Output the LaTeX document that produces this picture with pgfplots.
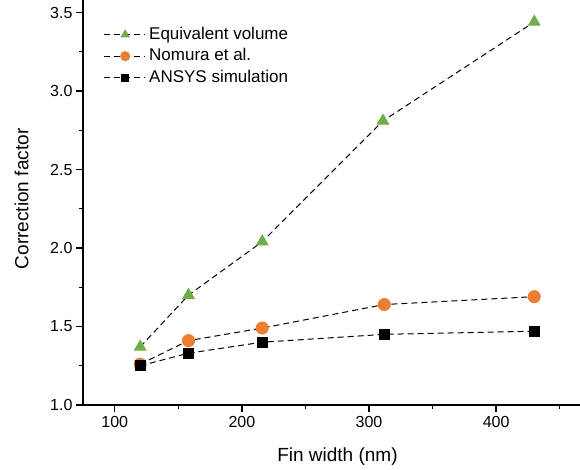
\documentclass[border=0pt]{standalone}
\usepackage{pgfplots}
\pgfplotsset{compat=1.18}
\usepackage{fontspec}
\setmainfont{Liberation Sans}
\definecolor{cgreen}{RGB}{112,173,71}
\definecolor{corange}{RGB}{237,125,49}
\begin{document}
\begin{tikzpicture}
\begin{axis}[
  name=ax,
  scale only axis, width=497pt, height=405pt,
  xmin=75, xmax=466, ymin=1.0, ymax=3.58,
  axis x line*=bottom, axis y line*=left,
  xtick={100,200,300,400}, minor xtick={150,250,350,450},
  ytick={1,1.5,2,2.5,3,3.5}, minor ytick={1.25,1.75,2.25,2.75,3.25},
  tick align=outside, major tick length=7pt, minor tick length=4pt,
  yticklabel style={/pgf/number format/fixed, /pgf/number format/fixed zerofill, /pgf/number format/precision=1},
  /pgf/number format/assume math mode=true,
  tick label style={font=\fontsize{16}{18}\selectfont},
  xticklabel style={yshift=-1pt},
  xlabel={Fin width (nm)}, ylabel={Correction factor},
  xlabel style={font=\fontsize{19}{22}\selectfont, at={(axis description cs:0.512,0)}, anchor=base, yshift=-57pt},
  ylabel style={font=\fontsize{19}{22}\selectfont, at={(axis description cs:0,0.509)}, anchor=center, yshift=61.5pt},
  axis line style={line width=1.3pt},
  every tick/.style={line width=1.3pt, black},
  legend style={draw=none, fill=none, at={(axis description cs:0,1)}, anchor=north west,
    xshift=17pt, yshift=-24pt,
    font=\fontsize{17}{20}\selectfont, row sep=4.5pt,
    nodes={inner sep=1pt, text height=12pt, text depth=3pt}},
  legend cell align=left,
  legend image code/.code={\draw[mark repeat=2, mark phase=2, #1] plot coordinates {(0pt,0pt) (21.5pt,0pt) (41pt,0pt)};},
  every axis plot/.append style={black, line width=1pt, dash pattern=on 6pt off 4pt},
]
\addlegendimage{mark=triangle*, mark size=4.5pt, mark options={solid, fill=cgreen, draw=cgreen}}
\addlegendentry{\hspace{3pt}Equivalent volume}
\addlegendimage{mark=*, mark size=4.5pt, mark options={solid, fill=corange, draw=corange}}
\addlegendentry{\hspace{3pt}Nomura et al.}
\addlegendimage{mark=square*, mark size=3.5pt, mark options={solid, fill=black, draw=black}}
\addlegendentry{\hspace{3pt}ANSYS simulation}
\addplot[forget plot, mark=triangle*, mark size=6.5pt,
  mark options={solid, fill=cgreen, draw=cgreen}]
  coordinates {(120,1.37) (158,1.70) (216,2.04) (311,2.81) (430,3.44)};
\addplot[forget plot, mark=*, mark size=6pt,
  mark options={solid, fill=corange, draw=corange}]
  coordinates {(120,1.26) (158,1.41) (216,1.49) (312,1.64) (430,1.69)};
\addplot[forget plot, mark=square*, mark size=5pt,
  mark options={solid, fill=black, draw=black}]
  coordinates {(120,1.25) (158,1.33) (216,1.40) (312,1.45) (430,1.47)};
\end{axis}
\pgfresetboundingbox
\useasboundingbox ([xshift=-83pt,yshift=-65pt]ax.south west) rectangle (ax.north east);
\end{tikzpicture}
\end{document}
